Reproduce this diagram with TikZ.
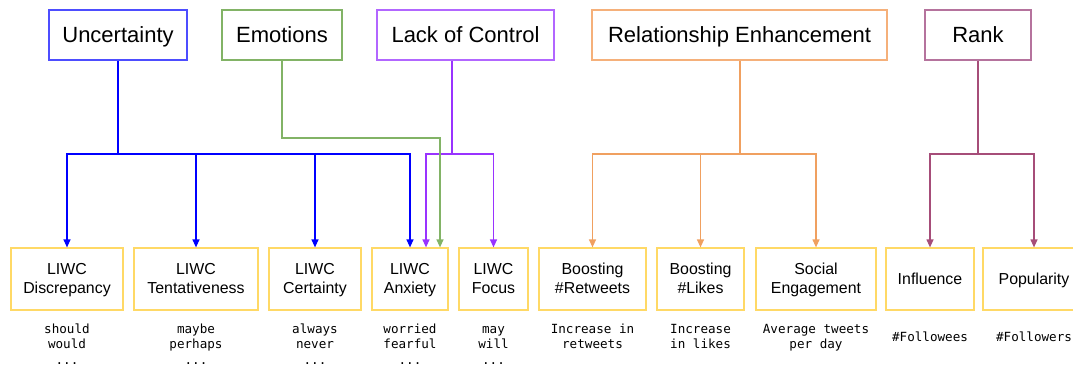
\documentclass[tikz,border=0pt]{standalone}
\usepackage{fontspec}
\setmainfont{Liberation Sans}
\newfontfamily\monof{DejaVu Sans Mono}
\usetikzlibrary{arrows.meta}
\definecolor{cblue}{HTML}{0000FF}
\definecolor{cblueb}{HTML}{4D4DFF}
\definecolor{cgreen}{HTML}{82B366}
\definecolor{cpurple}{HTML}{9933FF}
\definecolor{cpurpleb}{HTML}{B266FF}
\definecolor{corange}{HTML}{F0A060}
\definecolor{corangeb}{HTML}{F5B07A}
\definecolor{crank}{HTML}{A64D79}
\definecolor{crankb}{HTML}{B5739D}
\definecolor{cyel}{HTML}{FFD966}
\newcommand{\mst}{\rule{0pt}{10pt}}
\newcommand{\fst}{\rule[-5.7pt]{0pt}{22.3pt}}
\tikzset{
  topbox/.style={draw, line width=1.2pt, minimum height=50pt, inner sep=0pt, text height=15.5pt, text depth=0pt, font=\fontsize{22}{26}\selectfont},
  botbox/.style={draw=cyel, line width=1.2pt, minimum height=62pt, inner sep=0pt, align=center, font=\fontsize{15.9}{19}\selectfont},
  oneline/.style={text height=11.5pt, text depth=0pt},
  mono/.style={anchor=north, inner sep=0pt, align=center, font=\monof\fontsize{12.6}{15.5}\selectfont},
  conn/.style={line width=1.2pt},
  arr/.style={conn, -{Triangle[length=8pt,width=7pt]}},
}
\begin{document}
\begin{tikzpicture}[x=1pt,y=-1pt]
\useasboundingbox (0,0) rectangle (1073,364);
% top boxes
\node[topbox, draw=cblueb, minimum width=138pt] (unc) at (118,35) {Uncertainty};
\node[topbox, draw=cgreen, minimum width=120pt] (emo) at (282,35) {Emotions};
\node[topbox, draw=cpurpleb, minimum width=177pt] (loc) at (465.5,35) {Lack of Control};
\node[topbox, draw=corangeb, minimum width=295pt] (re) at (739.5,35) {Relationship Enhancement};
\node[topbox, draw=crankb, minimum width=106pt] (rank) at (978,35) {Rank};
% bottom boxes
\node[botbox, minimum width=112pt] (disc) at (67,279) {\fst LIWC\\Discrepancy\strut};
\node[botbox, minimum width=124pt] (tent) at (196,279) {\fst LIWC\\Tentativeness\strut};
\node[botbox, minimum width=92pt] (cert) at (315,279) {\fst LIWC\\Certainty\strut};
\node[botbox, minimum width=76pt] (anx) at (410,279) {\fst LIWC\\Anxiety\strut};
\node[botbox, minimum width=69pt] (foc) at (493.5,279) {\fst LIWC\\Focus\strut};
\node[botbox, minimum width=107pt] (ret) at (592.5,279) {\fst Boosting\\\#Retweets\strut};
\node[botbox, minimum width=87pt] (lik) at (700.5,279) {\fst Boosting\\\#Likes\strut};
\node[botbox, minimum width=120pt] (soc) at (816,279) {\fst Social\\Engagement\strut};
\node[botbox, oneline, minimum width=88pt] (inf) at (930,279) {Influence};
\node[botbox, oneline, minimum width=102pt] (pop) at (1034,279) {Popularity};
% mono texts
\node[mono] (tdisc) at (67,323) {\mst should\\would\\...};
\node[mono] (ttent) at (196,323) {\mst maybe\\perhaps\\...};
\node[mono] (tcert) at (315,323) {\mst always\\never\\...};
\node[mono] (tanx) at (410,323) {\mst worried\\fearful\\...};
\node[mono] (tfoc) at (493.5,323) {\mst may\\will\\...};
\node[mono] (tret) at (592.5,323) {\mst Increase in\\retweets};
\node[mono] (tlik) at (700.5,323) {\mst Increase\\in likes};
\node[mono] (tsoc) at (816,323) {\mst Average tweets\\per day};
\node[mono] (tinf) at (930,331) {\mst\#Followees};
\node[mono] (tpop) at (1034,331) {\mst\#Followers};
% junction coordinates
\coordinate (ub) at (118,154);
\coordinate (lb) at (452,154);
\coordinate (gt) at (440,138);
\coordinate (rb) at (740,154);
\coordinate (kb) at (978,154);
\coordinate (anxp) at ([xshift=16pt]anx.north);
\coordinate (anxg) at ([xshift=30pt]anx.north);
% blue
\draw[conn, cblue] (unc.south) -- (ub);
\draw[arr, cblue] (ub) -| (disc.north);
\draw[arr, cblue] (ub) -| (tent.north);
\draw[arr, cblue] (ub) -| (cert.north);
\draw[arr, cblue] (ub) -| (anx.north);
% purple
\draw[conn, cpurple] (loc.south -| lb) -- (lb);
\draw[arr, cpurple] (lb) -| (anxp);
\draw[arr, cpurple] (lb) -| (foc.north);
% green
\draw[arr, cgreen] (emo.south) |- (gt) -- (anxg);
% orange
\draw[conn, corange] (re.south -| rb) -- (rb);
\draw[arr, corange] (rb) -| (ret.north);
\draw[arr, corange] (rb) -| (lik.north);
\draw[arr, corange] (rb) -| (soc.north);
% rank
\draw[conn, crank] (rank.south) -- (kb);
\draw[arr, crank] (kb) -| (inf.north);
\draw[arr, crank] (kb) -| (pop.north);
\end{tikzpicture}
\end{document}
